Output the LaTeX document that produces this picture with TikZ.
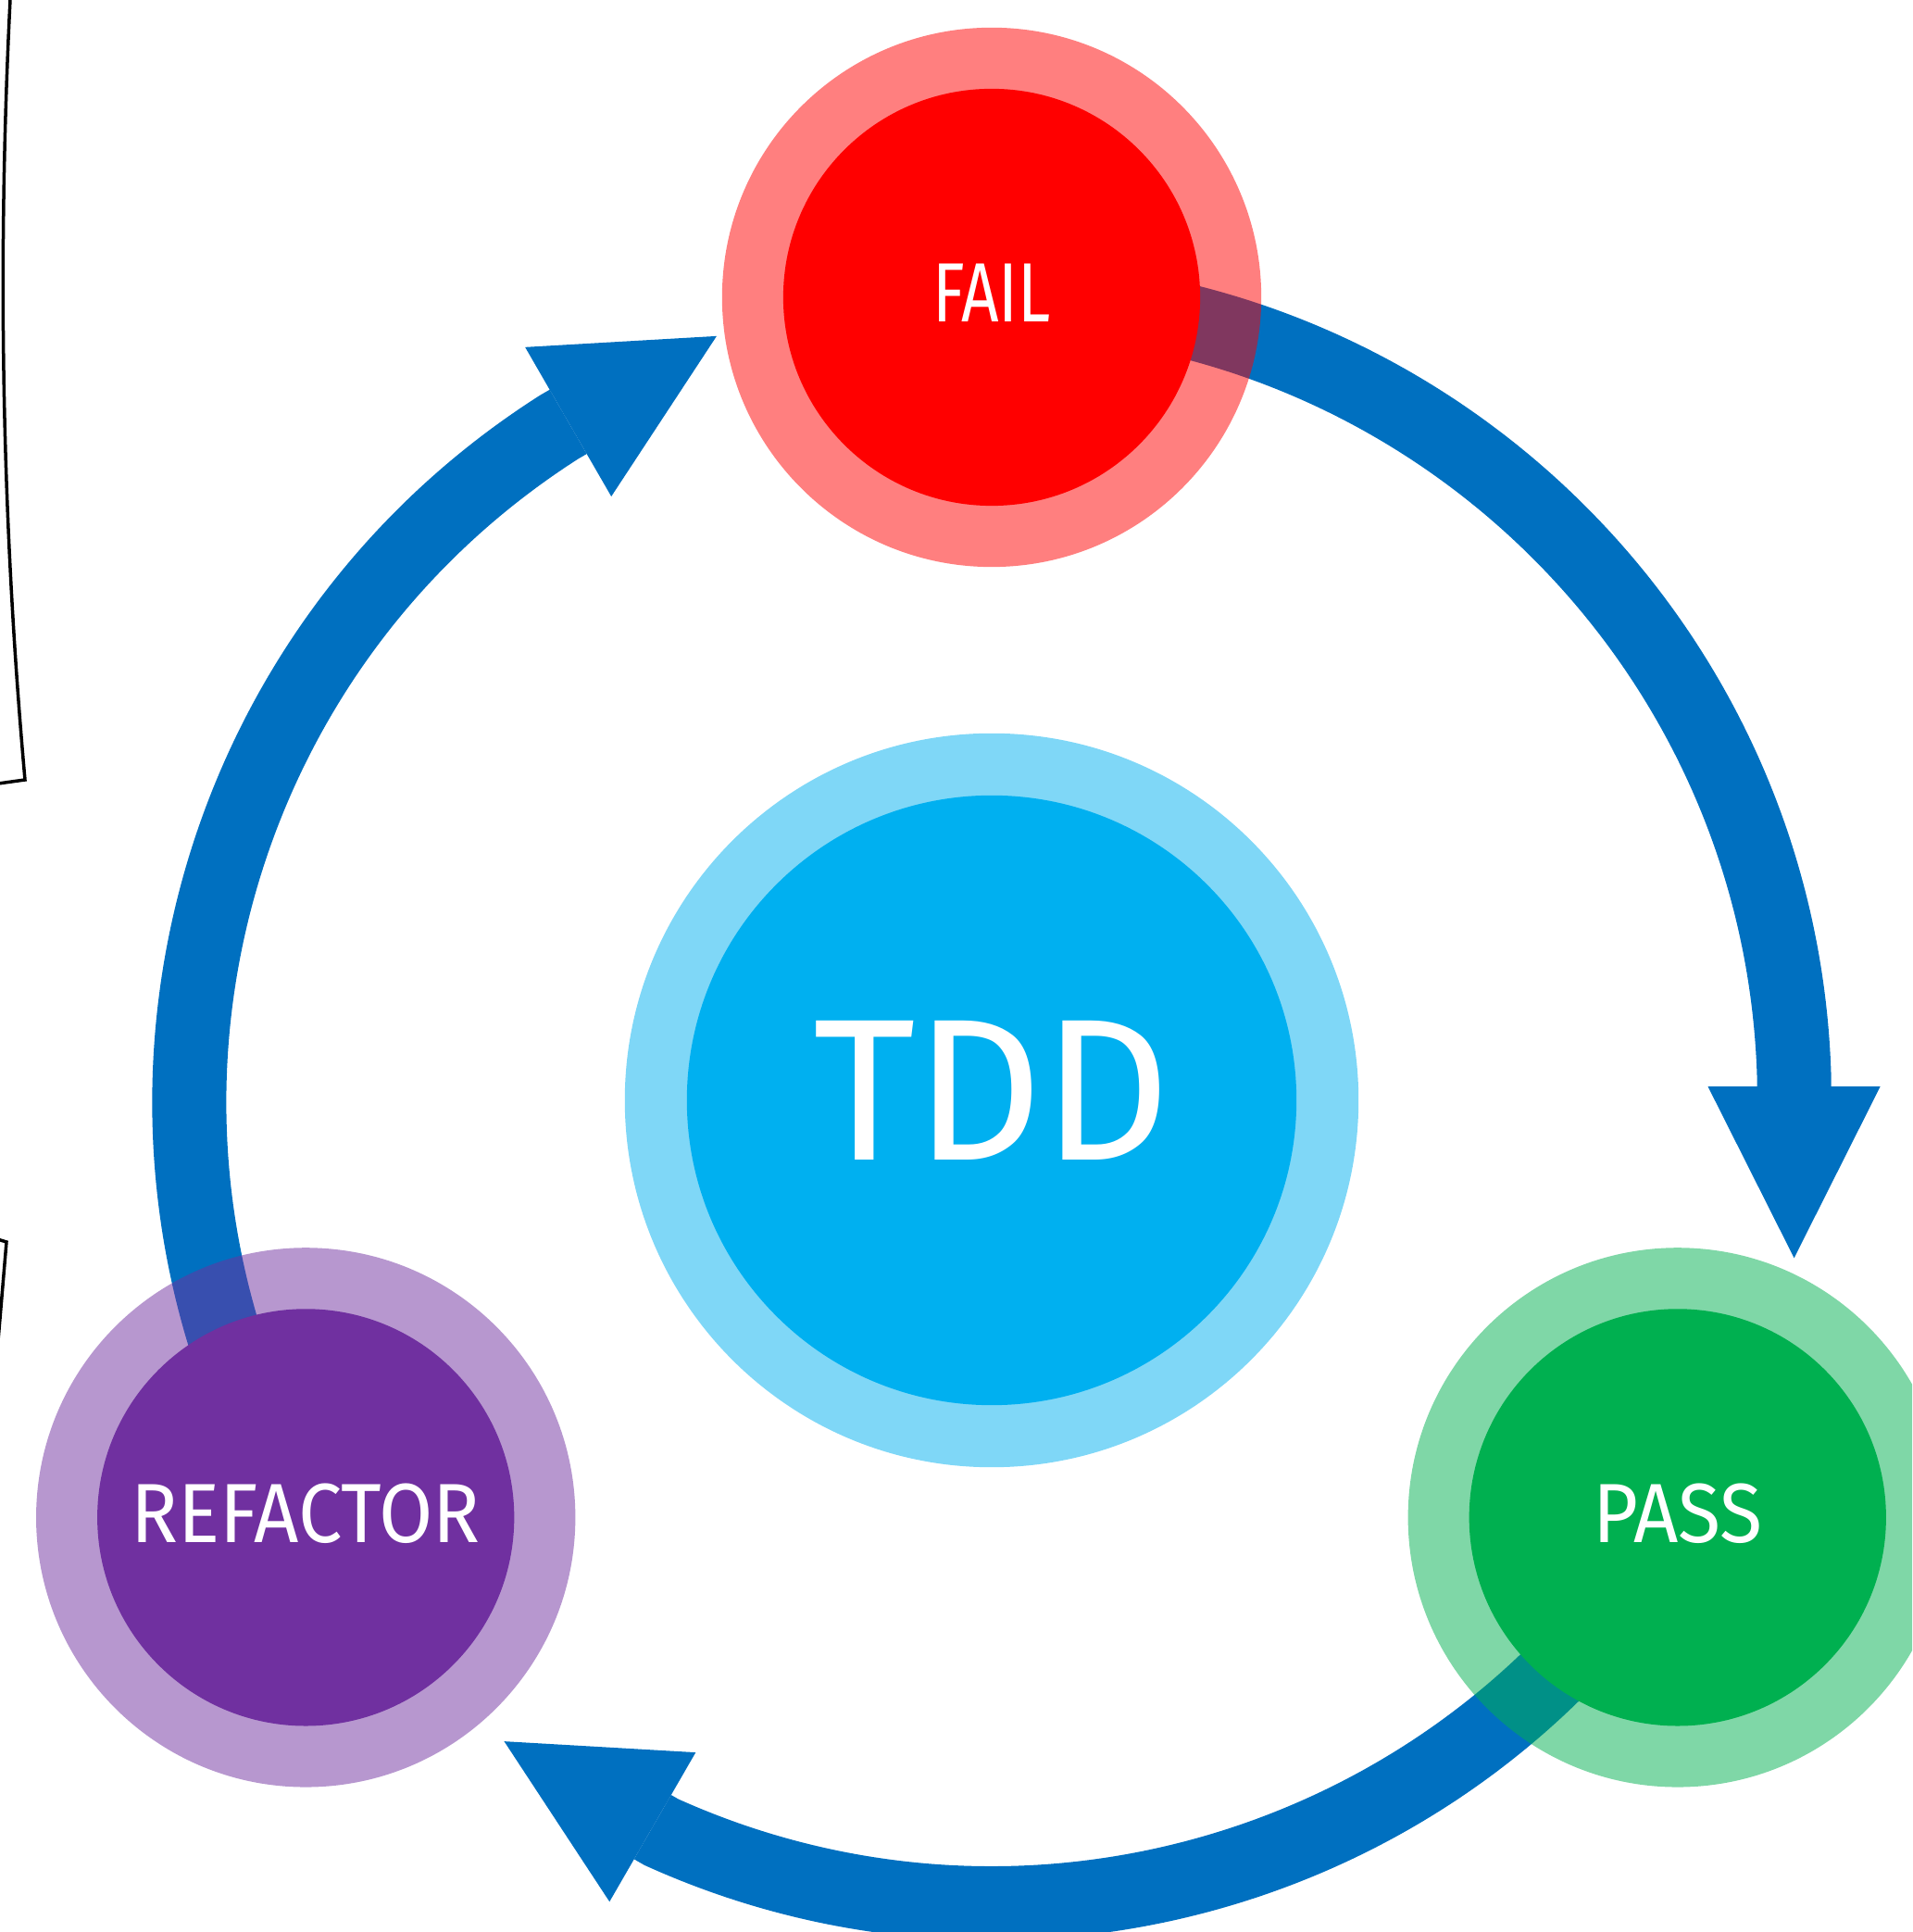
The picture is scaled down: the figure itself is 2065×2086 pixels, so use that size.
\documentclass[tikz,border=0pt]{standalone}
\usepackage{fontspec}
\newfontfamily\dinfont[FakeStretch=0.93]{Fira Sans}
\newfontfamily\dinnarrow[FakeStretch=0.78]{Fira Sans}
\newfontfamily\dinwide[FakeStretch=0.98]{Fira Sans}
\usetikzlibrary{arrows.meta, calc}
\definecolor{flowblue}{HTML}{0070C0}
\definecolor{failred}{HTML}{FF0000}
\definecolor{passgreen}{HTML}{00B050}
\definecolor{refpurple}{HTML}{7030A0}
\definecolor{tddblue}{HTML}{00B0F0}
\tikzset{ring/.style={circle, fill=#1, fill opacity=0.5, inner sep=0pt, minimum size=5.82cm},
    core/.style={circle, fill=#1, inner sep=0pt, minimum size=4.5cm, text=white, text depth=0.1cm,
        font=\dinfont\fontsize{25.8}{30}\selectfont},
    flow/.style={draw=flowblue, line width=0.8cm,
        -{Triangle[length=1.85cm, width=1.86cm, line width=0pt]}},
    rim/.style={draw=black, line width=0.035cm}}

\begin{document}
\begin{tikzpicture}[x=0.01cm, y=0.01cm]
    \useasboundingbox (-1071,-898) rectangle (994,1188);
    \clip (-1071,-898) rectangle (994,1188);

    \coordinate (tdd0) at (0,0);
    \coordinate (fail0) at (90:867);
    \coordinate (pass0) at (-31.3:867);
    \coordinate (refac0) at (211.3:867);

    % cycle arrows
    \draw[flow] (fail0) arc[start angle=90, end angle=1.7, radius=867] -- ++(-90:196);
    \draw[flow] (pass0) arc[start angle=-31.3, end angle=-114.3, radius=867] -- ++(150:196);
    \draw[flow] (refac0) arc[start angle=211.3, end angle=122.5, radius=864] -- ++(30:196);

    \node[ring=tddblue, minimum size=7.92cm] (tddring) at (tdd0) {};
    \node[core=tddblue, minimum size=6.58cm, text depth=0.22cm,
        font=\dinwide\fontsize{62}{70}\selectfont] (tdd) at (tdd0) {TDD};

    \node[ring=failred] (failring) at (fail0) {};
    \node[core=failred, font=\dinnarrow\fontsize{25.8}{30}\selectfont] (fail) at (fail0) {FAIL};

    \node[ring=passgreen] (passring) at (pass0) {};
    \node[core=passgreen] (pass) at (pass0) {PASS};

    \node[ring=refpurple] (refacring) at (refac0) {};
    \node[core=refpurple] (refac) at (refac0) {REFACTOR};

    % outline bits at the left edge
    \draw[rim] (-1060,1188) .. controls (-1074,907) and (-1069,626) .. (-1044,346) -- (-1080,341);
    \draw[rim] (-1080,-148) -- (-1064,-153) -- (-1076,-295);
\end{tikzpicture}
\end{document}
